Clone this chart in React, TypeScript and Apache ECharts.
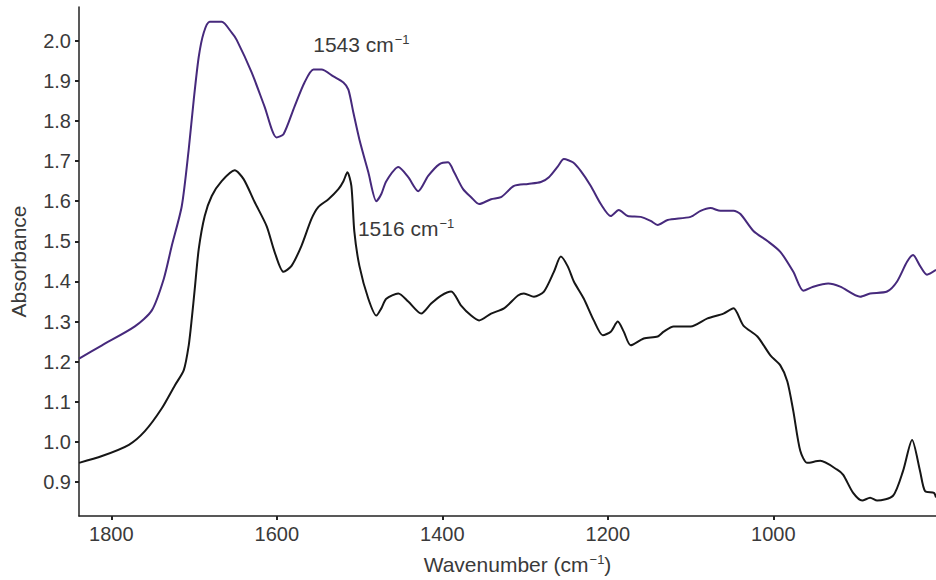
import React, { useEffect, useRef } from "react";
import * as echarts from "echarts";

// Wavenumber (cm-1) and absorbance
const purpleWn = [1838.9, 1811.2, 1771.5, 1751.0, 1736.5, 1726.9, 1714.8, 1706.4, 1700.3, 1694.3, 1688.3, 1681.1, 1666.6, 1654.5, 1648.5, 1630.4, 1614.8, 1600.3, 1591.9, 1578.6, 1566.5, 1555.7, 1546.0, 1531.6, 1519.5, 1513.5, 1507.5, 1500.2, 1489.4, 1479.7, 1473.7, 1467.7, 1453.2, 1441.2, 1429.1, 1417.1, 1403.8, 1393.0, 1385.7, 1374.9, 1365.2, 1355.6, 1341.1, 1329.1, 1313.4, 1296.5, 1280.9, 1271.2, 1260.4, 1253.1, 1242.3, 1232.6, 1220.6, 1208.5, 1196.5, 1186.8, 1176.0, 1160.3, 1148.3, 1139.8, 1127.8, 1100.0, 1088.0, 1075.9, 1063.9, 1048.2, 1039.8, 1024.1, 1007.2, 991.6, 975.9, 963.8, 951.8, 933.7, 919.2, 895.1, 883.1, 862.6, 850.5, 838.5, 831.2, 822.8, 814.4, 803.5];
const purpleAbs = [1.208, 1.241, 1.288, 1.328, 1.407, 1.489, 1.588, 1.730, 1.854, 1.960, 2.020, 2.047, 2.047, 2.020, 2.002, 1.921, 1.836, 1.759, 1.767, 1.836, 1.896, 1.928, 1.928, 1.911, 1.896, 1.878, 1.821, 1.754, 1.672, 1.600, 1.618, 1.650, 1.685, 1.660, 1.625, 1.663, 1.692, 1.697, 1.672, 1.630, 1.610, 1.593, 1.605, 1.610, 1.638, 1.643, 1.648, 1.660, 1.687, 1.705, 1.697, 1.675, 1.638, 1.593, 1.563, 1.578, 1.563, 1.561, 1.551, 1.541, 1.553, 1.561, 1.576, 1.583, 1.576, 1.576, 1.568, 1.526, 1.501, 1.474, 1.424, 1.377, 1.387, 1.395, 1.387, 1.362, 1.370, 1.375, 1.400, 1.449, 1.466, 1.439, 1.417, 1.429];

const blackWn = [1838.9, 1811.2, 1778.7, 1759.4, 1738.9, 1723.2, 1712.4, 1706.4, 1702.7, 1699.1, 1694.3, 1687.1, 1678.6, 1666.6, 1650.9, 1640.1, 1626.8, 1612.3, 1602.7, 1591.9, 1582.2, 1570.2, 1558.1, 1549.7, 1537.6, 1525.6, 1519.5, 1514.7, 1509.9, 1506.3, 1500.2, 1489.4, 1479.7, 1473.7, 1467.7, 1453.2, 1441.2, 1425.5, 1413.5, 1401.4, 1389.3, 1377.3, 1365.2, 1355.6, 1341.1, 1325.5, 1308.6, 1301.4, 1289.3, 1277.2, 1265.2, 1256.8, 1248.3, 1241.1, 1229.0, 1217.0, 1206.1, 1196.5, 1188.0, 1180.8, 1172.4, 1156.7, 1139.8, 1132.6, 1120.5, 1100.0, 1079.6, 1060.3, 1048.2, 1036.2, 1019.3, 1003.6, 991.6, 983.1, 975.9, 967.5, 959.0, 943.3, 922.9, 915.6, 903.6, 892.7, 883.1, 874.6, 855.4, 843.3, 832.4, 822.8, 816.8, 806.0, 803.5];
const blackAbs = [0.948, 0.965, 0.993, 1.027, 1.084, 1.141, 1.179, 1.241, 1.308, 1.382, 1.481, 1.563, 1.613, 1.650, 1.677, 1.655, 1.598, 1.538, 1.474, 1.424, 1.439, 1.489, 1.556, 1.586, 1.605, 1.630, 1.650, 1.672, 1.638, 1.524, 1.439, 1.357, 1.315, 1.333, 1.357, 1.370, 1.350, 1.320, 1.345, 1.365, 1.375, 1.340, 1.315, 1.303, 1.320, 1.333, 1.365, 1.370, 1.362, 1.375, 1.424, 1.462, 1.437, 1.400, 1.357, 1.303, 1.266, 1.275, 1.300, 1.275, 1.241, 1.258, 1.263, 1.275, 1.288, 1.288, 1.308, 1.320, 1.333, 1.290, 1.263, 1.216, 1.191, 1.151, 1.077, 0.978, 0.948, 0.953, 0.931, 0.918, 0.873, 0.854, 0.861, 0.854, 0.866, 0.928, 1.005, 0.928, 0.878, 0.873, 0.862];

const xTicks = [1000, 1200, 1400, 1600, 1800];
const yTicks = [0.9, 1.0, 1.1, 1.2, 1.3, 1.4, 1.5, 1.6, 1.7, 1.8, 1.9, 2.0];

const annotations = [
  { text: "1543 cm", wn: 1556, abs: 1.99 },
  { text: "1516 cm", wn: 1502, abs: 1.531 },
];

const FONT = "'Liberation Sans', Arial, Helvetica, sans-serif";
const TEXT = "#3a3a3a";
const AXIS = "#222222";

export default function App() {
  const ref = useRef<HTMLDivElement>(null);
  useEffect(() => {
    document.body.style.margin = "0";
    const chart = echarts.init(ref.current!, null, { renderer: "svg" });
    const pair = (xs: number[], ys: number[]) => xs.map((x, i) => [x, ys[i]]);
    const supRich = {
      sup: { fontSize: 13, color: TEXT, fontFamily: FONT, padding: [0, 0, 10, 1] },
    };
    const annLabel = (i: number) => ({
      coord: [annotations[i].wn, annotations[i].abs],
      label: {
        show: true,
        position: "right",
        distance: 0,
        formatter: annotations[i].text + "{sup|−1}",
        fontSize: 21,
        color: TEXT,
        fontFamily: FONT,
        rich: supRich,
      },
    });
    chart.setOption({
      animation: false,
      backgroundColor: "#ffffff",
      textStyle: { fontFamily: FONT },
      grid: { left: 77, right: 0, top: 7, bottom: 62, containLabel: false },
      xAxis: {
        type: "value",
        inverse: true,
        min: 803.5,
        max: 1839,
        name: "Wavenumber (cm{sup|−1})",
        nameLocation: "middle",
        nameGap: 37,
        nameTextStyle: { fontSize: 21, color: TEXT, fontFamily: FONT, rich: supRich, padding: [0, 0, 0, 20] },
        axisLine: { show: true, onZero: false, lineStyle: { color: AXIS, width: 1.5 } },
        axisTick: { show: true, customValues: xTicks, length: 4, lineStyle: { color: AXIS, width: 2 } },
        axisLabel: {
          customValues: xTicks,
          fontSize: 20,
          color: TEXT,
          margin: 8,
          fontFamily: FONT,
          formatter: (v: number) => String(v),
        },
        splitLine: { show: false },
      },
      yAxis: {
        type: "value",
        min: 0.8156,
        max: 2.084,
        name: "Absorbance",
        nameLocation: "middle",
        nameGap: 50,
        nameTextStyle: { fontSize: 21, color: TEXT, fontFamily: FONT },
        axisLine: { show: true, onZero: false, lineStyle: { color: AXIS, width: 1.5 } },
        axisTick: { show: true, customValues: yTicks, length: 4, lineStyle: { color: AXIS, width: 2 } },
        axisLabel: {
          customValues: yTicks,
          fontSize: 20,
          color: TEXT,
          margin: 8,
          fontFamily: FONT,
          formatter: (v: number) => v.toFixed(1),
        },
        splitLine: { show: false },
      },
      series: [
        {
          type: "line",
          data: pair(purpleWn, purpleAbs),
          showSymbol: false,
          symbol: "none",
          smooth: 0.25,
          lineStyle: { color: "#46297c", width: 2 },
          markPoint: { symbol: "circle", symbolSize: 0, data: [annLabel(0)] },
        },
        {
          type: "line",
          data: pair(blackWn, blackAbs),
          showSymbol: false,
          symbol: "none",
          smooth: 0.25,
          lineStyle: { color: "#161616", width: 2 },
          markPoint: { symbol: "circle", symbolSize: 0, data: [annLabel(1)] },
        },
      ],
    });
    return () => chart.dispose();
  }, []);
  return <div ref={ref} style={{ width: 936, height: 580 }} />;
}
